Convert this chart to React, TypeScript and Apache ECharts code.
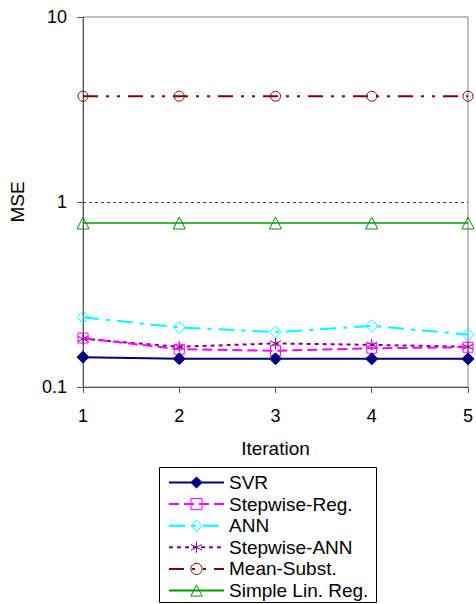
import React, { useEffect, useRef } from "react";
import * as echarts from "echarts";

// Iterations on the x axis
const iterations = ["1", "2", "3", "4", "5"];

// Mean squared error per method and iteration
const svr = [0.145, 0.142, 0.142, 0.142, 0.142];
const stepwiseReg = [0.184, 0.16, 0.157, 0.162, 0.164];
const ann = [0.238, 0.21, 0.198, 0.214, 0.192];
const stepwiseAnn = [0.182, 0.165, 0.172, 0.169, 0.165];
const meanSubst = [3.73, 3.73, 3.73, 3.73, 3.73];
const simpleLinReg = [0.77, 0.77, 0.77, 0.77, 0.77];

// Reference level drawn as a dotted line
const referenceLevel = 1;

const FONT = 'Arial, "Liberation Sans", sans-serif';
const ASTERISK = "path://M12,0 L12,24 M1.6,6 L22.4,18 M1.6,18 L22.4,6";

type Spec = {
  name: string;
  data: number[];
  color: string;
  dash: number[] | "solid";
  width: number;
  symbol: string;
  size: number;
  filled: boolean;
};

const specs: Spec[] = [
  { name: "SVR", data: svr, color: "#000080", dash: "solid", width: 2, symbol: "diamond", size: 12, filled: true },
  { name: "Stepwise-Reg.", data: stepwiseReg, color: "#ff00ff", dash: [10, 5], width: 2, symbol: "rect", size: 10, filled: false },
  { name: "ANN", data: ann, color: "#00ffff", dash: [16, 7, 4, 7], width: 2, symbol: "diamond", size: 12, filled: false },
  { name: "Stepwise-ANN", data: stepwiseAnn, color: "#800080", dash: [4, 4], width: 2, symbol: ASTERISK, size: 11, filled: false },
  { name: "Mean-Subst.", data: meanSubst, color: "#800000", dash: [15, 8, 3, 8, 3, 8], width: 2, symbol: "circle", size: 10, filled: false },
  { name: "Simple Lin. Reg.", data: simpleLinReg, color: "#009900", dash: "solid", width: 1.5, symbol: "triangle", size: 12, filled: false },
];

export default function App() {
  const ref = useRef<HTMLDivElement>(null);

  useEffect(() => {
    if (!ref.current) return;
    const chart = echarts.init(ref.current, undefined, { renderer: "svg" });

    const series: any[] = specs.map((s, i) => ({
      name: s.name,
      type: "line",
      data: s.data,
      symbol: s.symbol,
      symbolSize: s.size,
      showAllSymbol: true,
      z: 10 - i,
      lineStyle: { color: s.color, width: s.width, type: s.dash },
      itemStyle: {
        color: s.filled ? s.color : "rgba(0,0,0,0)",
        borderColor: s.color,
        borderWidth: 1,
      },
      emphasis: { disabled: true },
    }));

    // dotted horizontal line at MSE = 1
    series[series.length - 1].markLine = {
      silent: true,
      symbol: "none",
      label: { show: false },
      z: 1,
      lineStyle: { color: "#444", type: [3, 3], width: 1 },
      data: [{ yAxis: referenceLevel }],
    };

    chart.setOption({
      animation: false,
      backgroundColor: "#ffffff",
      textStyle: { fontFamily: FONT },
      grid: {
        left: 83,
        right: 4,
        top: 17,
        bottom: 217,
        show: true,
        borderColor: "#808080",
        borderWidth: 1,
        containLabel: false,
      },
      xAxis: {
        type: "category",
        data: iterations,
        boundaryGap: false,
        name: "Iteration",
        nameLocation: "middle",
        nameGap: 52,
        nameTextStyle: { fontSize: 19, color: "#000", fontFamily: FONT },
        axisLine: { lineStyle: { color: "#555", width: 1 } },
        axisTick: { show: true, length: 6, alignWithLabel: true, lineStyle: { color: "#555" } },
        axisLabel: { fontSize: 18, color: "#000", margin: 20, fontFamily: FONT },
        splitLine: { show: false },
      },
      yAxis: {
        type: "log",
        logBase: 10,
        min: 0.1,
        max: 10,
        name: "MSE",
        nameLocation: "middle",
        nameGap: 56,
        nameRotate: 90,
        nameTextStyle: { fontSize: 19, color: "#000", fontFamily: FONT },
        axisLine: { show: true, lineStyle: { color: "#555", width: 1 } },
        axisTick: { show: true, length: 6, lineStyle: { color: "#555" } },
        axisLabel: { fontSize: 18, color: "#000", margin: 16, fontFamily: FONT },
        minorTick: { show: false },
        splitLine: { show: false },
      },
      legend: {
        orient: "vertical",
        left: 168,
        top: 473,
        width: 205,
        height: 300,
        padding: 0,
        itemWidth: 55,
        itemHeight: 14,
        itemGap: 2.6,
        selectedMode: false,
        textStyle: { fontSize: 19, color: "#000", fontFamily: FONT },
        itemStyle: { borderWidth: 1 },
        data: specs.map((s) => s.name),
      },
      graphic: [
        {
          type: "rect",
          shape: { x: 159.5, y: 467.5, width: 217, height: 135 },
          style: { fill: "none", stroke: "#000", lineWidth: 1 },
          silent: true,
        },
      ],
      series,
    });

    return () => chart.dispose();
  }, []);

  return (
    <div
      ref={ref}
      style={{ position: "fixed", left: 0, top: 0, width: 476, height: 604, background: "#fff" }}
    />
  );
}
